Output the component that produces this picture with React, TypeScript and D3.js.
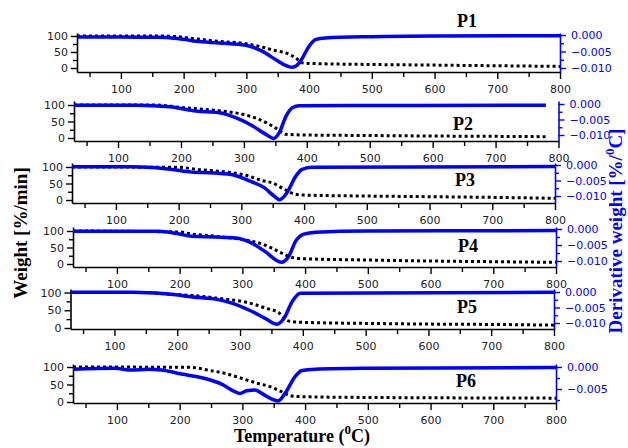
import React, { useEffect, useRef } from 'react';
import * as d3 from 'd3';

const panelNames = ['P1', 'P2', 'P3', 'P4', 'P5', 'P6'];
const xTicks = [100, 200, 300, 400, 500, 600, 700, 800];
const xMinorTicks = [50, 150, 250, 350, 450, 550, 650, 750];
const weightTicks = [0, 50, 100];
const weightMinorTicks = [25, 75];

// weight (%) vs temperature, dotted black
const p1Weight = [[30, 100], [150, 100], [180, 99], [220, 91], [257, 83], [299, 76], [326, 65], [347, 54], [363, 47], [379, 31], [389, 16], [405, 14], [500, 11], [600, 9], [700, 7], [800, 5]];
const p2Weight = [[30, 100], [160, 100], [203, 92], [235, 87], [272, 80], [298, 72], [325, 56], [341, 41], [354, 26], [367, 11], [400, 9], [500, 7.5], [600, 6], [700, 5], [780, 4]];
const p3Weight = [[30, 100], [200, 99], [232, 92], [275, 85], [307, 75], [333, 59], [349, 52], [370, 31], [385, 18], [400, 15], [500, 12], [600, 10], [700, 8], [800, 5]];
const p4Weight = [[30, 100], [200, 97], [219, 91], [257, 84], [289, 77], [315, 69], [331, 61], [347, 48], [363, 33], [379, 20], [400, 16], [500, 12], [600, 9], [700, 7], [800, 5]];
const p5Weight = [[30, 100], [150, 100], [181, 96], [234, 90], [277, 81], [303, 75], [324, 66], [340, 56], [361, 44], [377, 20], [400, 16], [500, 13], [600, 11], [700, 10], [800, 8]];
const p6Weight = [[30, 100], [219, 99], [245, 91], [272, 82], [298, 68], [325, 53], [347, 42], [363, 29], [379, 17], [400, 15], [500, 13], [600, 12], [700, 11.5], [800, 11]];

// derivative weight (%/°C), solid blue
const p1Deriv = [[30, -0.0006], [100, -0.0006], [150, -0.0007], [177, -0.0008], [200, -0.0013], [220, -0.0019], [257, -0.0024], [299, -0.0031], [325, -0.0049], [347, -0.0075], [365, -0.0094], [373, -0.0098], [380, -0.0093], [386, -0.008], [400, -0.0034], [410, -0.0014], [426, -0.0009], [500, -0.0005], [600, -0.0003], [800, -0.0002]];
const p2Deriv = [[30, -0.0004], [129, -0.0004], [182, -0.0009], [224, -0.0023], [261, -0.0028], [287, -0.0044], [314, -0.0071], [335, -0.0098], [347, -0.0111], [356, -0.0093], [367, -0.0039], [377, -0.0012], [388, -0.0006], [500, -0.0005], [780, -0.0004]];
const p3Deriv = [[30, -0.0006], [126, -0.0006], [179, -0.0012], [221, -0.0023], [257, -0.0026], [289, -0.0033], [315, -0.0053], [337, -0.0074], [352, -0.01], [361, -0.0112], [367, -0.0104], [374, -0.0085], [385, -0.0042], [396, -0.0015], [412, -0.0007], [800, -0.0005]];
const p4Deriv = [[30, -0.0007], [166, -0.0007], [198, -0.0015], [219, -0.0023], [257, -0.0025], [289, -0.0028], [315, -0.0044], [336, -0.007], [362, -0.0104], [374, -0.0085], [385, -0.0038], [398, -0.0016], [417, -0.001], [500, -0.0006], [800, -0.0005]];
const p5Deriv = [[30, -0.0001], [130, -0.0001], [181, -0.0006], [234, -0.0018], [261, -0.0023], [287, -0.0036], [314, -0.0058], [340, -0.0085], [359, -0.0104], [370, -0.0085], [383, -0.0031], [396, -0.0004], [800, -0.0001]];
const p6Deriv = [[30, -0.0005], [97, -0.0003], [123, -0.0007], [150, -0.0005], [171, -0.0007], [203, -0.0016], [240, -0.0026], [267, -0.0039], [288, -0.0056], [296, -0.006], [307, -0.0054], [320, -0.0052], [331, -0.006], [347, -0.0073], [357, -0.0077], [368, -0.006], [384, -0.0022], [395, -0.0008], [416, -0.0005], [500, -0.0003], [800, -0.0001]];

const weights = [p1Weight, p2Weight, p3Weight, p4Weight, p5Weight, p6Weight];
const derivs = [p1Deriv, p2Deriv, p3Deriv, p4Deriv, p5Deriv, p6Deriv];

// panel placement (pixels) -- the original panels are not quite aligned
const layout = [
  { xL: 77, xR: 560, top: 33, bottom: 72, w100: 36, w0: 68, d0: 35, dRef: 68, dRefVal: -0.01, tx: 467, ty: 27 },
  { xL: 74, xR: 558.5, top: 101, bottom: 141, w100: 105, w0: 138, d0: 104, dRef: 135, dRefVal: -0.01, tx: 463, ty: 130 },
  { xL: 72, xR: 555, top: 163, bottom: 203, w100: 167, w0: 200, d0: 165, dRef: 196, dRefVal: -0.01, tx: 465, ty: 186 },
  { xL: 73, xR: 556, top: 227, bottom: 267, w100: 231, w0: 264, d0: 229, dRef: 261, dRefVal: -0.01, tx: 468, ty: 252 },
  { xL: 70.5, xR: 554, top: 289, bottom: 329, w100: 292.5, w0: 328, d0: 292, dRef: 323, dRefVal: -0.01, tx: 467, ty: 313 },
  { xL: 73, xR: 556, top: 364, bottom: 403, w100: 367, w0: 402, d0: 367, dRef: 389, dRefVal: -0.005, tx: 466, ty: 387 },
];

const BLUE = '#0000ff';
const tickFont = '"DejaVu Sans", sans-serif';
const serif = '"Liberation Serif", "Times New Roman", serif';

const App = () => {
  const svgRef = useRef(null);

  useEffect(() => {
    const svg = d3.select(svgRef.current);
    svg.selectAll('*').remove();

    layout.forEach((p, i) => {
      const g = svg.append('g');
      const x = d3.scaleLinear().domain([30, 800]).range([p.xL, p.xR]);
      const yW0 = d3.scaleLinear().domain([0, 100]).range([p.w0, p.w100]);
      const yW = d3.scaleLinear().domain([yW0.invert(p.bottom), yW0.invert(p.top)]).range([p.bottom, p.top]);
      const yD0 = d3.scaleLinear().domain([0, p.dRefVal]).range([p.d0, p.dRef]);
      const yD = d3.scaleLinear().domain([yD0.invert(p.bottom), yD0.invert(p.top)]).range([p.bottom, p.top]);

      const derivTicks = p.dRefVal === -0.01 ? [0, -0.005, -0.01] : [0, -0.005];
      const derivMinor = [-0.0025, -0.0075];

      // x axis
      g.append('g')
        .attr('transform', `translate(0,${p.bottom})`)
        .call(d3.axisBottom(x).tickValues(xMinorTicks).tickSize(5).tickFormat(() => ''))
        .call(a => a.select('.domain').remove());
      g.append('g')
        .attr('transform', `translate(0,${p.bottom})`)
        .call(d3.axisBottom(x).tickValues(xTicks).tickSize(7).tickSizeOuter(0).tickPadding(6).tickFormat(d3.format('d')));

      // left axis (weight)
      g.append('g')
        .attr('transform', `translate(${p.xL},0)`)
        .call(d3.axisLeft(yW).tickValues(weightMinorTicks).tickSize(4).tickFormat(() => ''))
        .call(a => a.select('.domain').remove());
      g.append('g')
        .attr('transform', `translate(${p.xL},0)`)
        .call(d3.axisLeft(yW).tickValues(weightTicks).tickSize(6).tickSizeOuter(0).tickPadding(3).tickFormat(d3.format('d')));

      // right axis (derivative)
      const right = g.append('g').attr('transform', `translate(${p.xR},0)`).attr('class', 'right');
      right.append('g')
        .call(d3.axisRight(yD).tickValues(derivMinor).tickSize(4).tickFormat(() => ''))
        .call(a => a.select('.domain').remove());
      right.append('g')
        .call(d3.axisRight(yD).tickValues(derivTicks).tickSize(6).tickSizeOuter(0).tickPadding(5).tickFormat(d3.format('.3f')));
      right.selectAll('path, line').attr('stroke', BLUE);
      right.selectAll('text').attr('fill', BLUE);

      g.selectAll('.domain').attr('stroke-width', 1.6);
      g.selectAll('.tick line').attr('stroke-width', 1.4);
      g.selectAll('text').attr('font-family', tickFont).attr('font-size', 11);
      g.selectAll('.tick text').filter(function () { return !this.closest('.right'); }).attr('fill', '#222');

      const lineW = d3.line().x(d => x(d[0])).y(d => yW(d[1])).curve(d3.curveMonotoneX);
      const lineD = d3.line().x(d => x(d[0])).y(d => yD(d[1])).curve(d3.curveMonotoneX);

      g.append('path')
        .attr('d', lineW(weights[i]))
        .attr('fill', 'none')
        .attr('stroke', '#000')
        .attr('stroke-width', 3)
        .attr('stroke-dasharray', '3,3');

      g.append('path')
        .attr('d', lineD(derivs[i]))
        .attr('fill', 'none')
        .attr('stroke', BLUE)
        .attr('stroke-width', 3.5)
        .attr('stroke-linejoin', 'round');

      g.append('text')
        .attr('x', p.tx)
        .attr('y', p.ty)
        .attr('text-anchor', 'middle')
        .attr('font-family', serif)
        .attr('font-weight', 'bold')
        .attr('font-size', 18)
        .text(panelNames[i]);
    });

    // axis titles
    const xt = svg.append('text')
      .attr('x', 302).attr('y', 442)
      .attr('text-anchor', 'middle')
      .attr('font-family', serif).attr('font-weight', 'bold').attr('font-size', 18);
    xt.append('tspan').text('Temperature (');
    xt.append('tspan').attr('dy', -8).attr('font-size', 13).text('0');
    xt.append('tspan').attr('dy', 8).text('C)');

    svg.append('text')
      .attr('transform', 'translate(27,233) rotate(-90)')
      .attr('text-anchor', 'middle')
      .attr('font-family', serif).attr('font-weight', 'bold').attr('font-size', 19)
      .text('Weight [%/min]');

    const rt = svg.append('text')
      .attr('transform', 'translate(622,231) rotate(-90)')
      .attr('text-anchor', 'middle')
      .attr('fill', BLUE)
      .attr('font-family', serif).attr('font-weight', 'bold').attr('font-size', 19);
    rt.append('tspan').text('Derivative weight [%/');
    rt.append('tspan').attr('dy', -8).attr('font-size', 13).text('0');
    rt.append('tspan').attr('dy', 8).text('C]');
  }, []);

  return (
    <svg ref={svgRef} width={628} height={448} style={{ position: 'absolute', left: 0, top: 0, background: '#fff' }} />
  );
};

export default App;
